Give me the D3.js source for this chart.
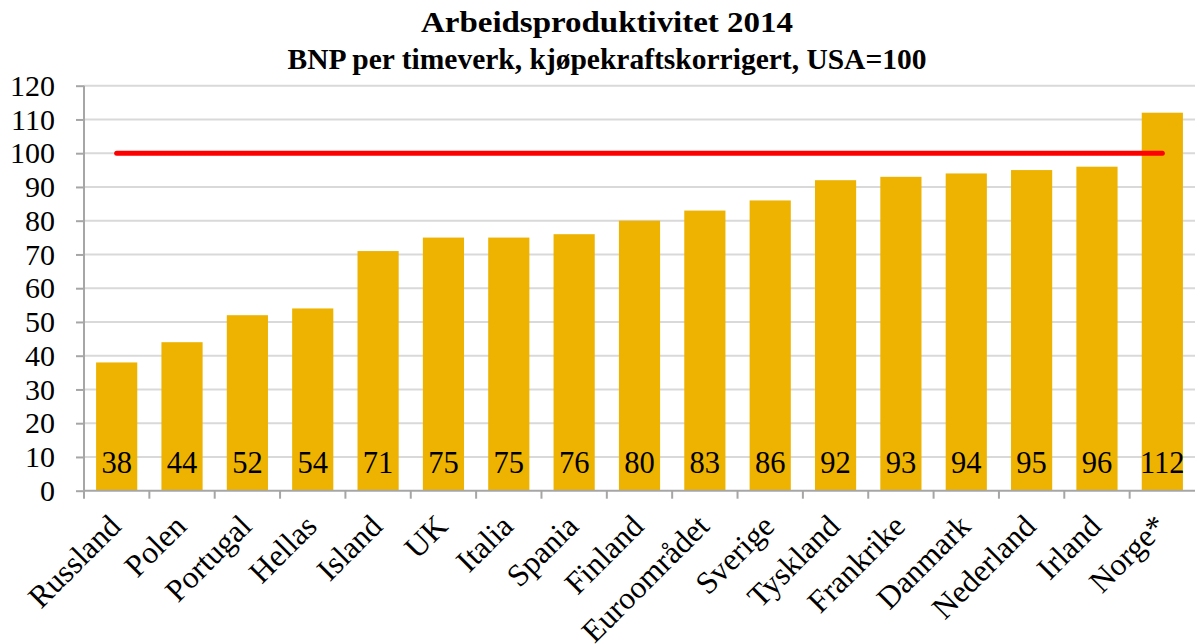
<!DOCTYPE html>
<html><head><meta charset="utf-8">
<script src="https://cdn.jsdelivr.net/npm/d3@7"></script>
<style>body{margin:0;background:#fff}svg{display:block}</style>
</head><body><svg id="c" width="1195" height="644"></svg>
<script>
const categories = ["Russland","Polen","Portugal","Hellas","Island","UK","Italia","Spania","Finland","Euroområdet","Sverige","Tyskland","Frankrike","Danmark","Nederland","Irland","Norge*"];
const values = [38,44,52,54,71,75,75,76,80,83,86,92,93,94,95,96,112];
const refValue = 100;
const yTicks = [0,10,20,30,40,50,60,70,80,90,100,110,120];
const titleLines = ["Arbeidsproduktivitet 2014","BNP per timeverk, kjøpekraftskorrigert, USA=100"];

const svg = d3.select("#c");
const font = "'Liberation Serif','Times New Roman',serif";
const L = 84, R = 1195, T = 85.7, B = 490.7;
const x = d3.scaleBand().domain(categories).range([L, R]).paddingInner(0.37).paddingOuter(0.185);
const xb = d3.scaleBand().domain(categories).range([L, R]);
const y = d3.scaleLinear().domain([0,120]).range([B, T]);

// title
const tt = svg.append("g").selectAll("text").data(titleLines).join("text")
  .attr("x", 607).attr("y", (d,i)=> 32 + i*37)
  .attr("text-anchor","middle").attr("font-family",font).attr("font-weight","bold")
  .attr("font-size",(d,i)=> i===0 ? 30 : 29.5).attr("fill","#000").text(d=>d);
tt.filter((d,i)=>i===0).attr("textLength",372).attr("lengthAdjust","spacingAndGlyphs");

// gridlines
svg.append("g").selectAll("line").data(yTicks.filter(t=>t>0)).join("line")
  .attr("x1", L).attr("x2", R).attr("y1", d=>y(d)).attr("y2", d=>y(d))
  .attr("stroke","#d9d9d9").attr("stroke-width",2);

// bars
svg.append("g").selectAll("rect").data(values).join("rect")
  .attr("x",(d,i)=>x(categories[i])).attr("width",x.bandwidth())
  .attr("y",d=>y(d)).attr("height",d=>B-y(d))
  .attr("fill","#edb300");

// value labels
svg.append("g").selectAll("text").data(values).join("text")
  .attr("x",(d,i)=>x(categories[i])+x.bandwidth()/2).attr("y",473)
  .attr("text-anchor","middle").attr("font-family",font).attr("font-size",30.5)
  .attr("fill","#000").text(d=>d);

// y axis
const yAxis = svg.append("g").attr("transform",`translate(${L},0)`)
  .call(d3.axisLeft(y).tickValues(yTicks).tickSize(8).tickPadding(21));
yAxis.select(".domain").attr("stroke","#a6a6a6").attr("stroke-width",2).attr("d",`M0,${T}V${B}`);
yAxis.selectAll(".tick line").attr("stroke","#a6a6a6").attr("stroke-width",2);
yAxis.selectAll(".tick text").attr("font-family",font).attr("font-size",30).attr("fill","#000");

// x axis
const xAxis = svg.append("g").attr("transform",`translate(0,${B})`)
  .call(d3.axisBottom(xb).tickSize(0).tickFormat(""));
xAxis.select(".domain").attr("stroke","#a6a6a6").attr("stroke-width",2).attr("d",`M${L},0H${R}`);
const bounds = categories.map(c=>xb(c)).concat([R]);
xAxis.append("g").selectAll("line").data(bounds.slice(0,-1)).join("line")
  .attr("x1",d=>d).attr("x2",d=>d).attr("y1",0).attr("y2",8)
  .attr("stroke","#a6a6a6").attr("stroke-width",2);

// x labels
svg.append("g").selectAll("text").data(categories).join("text")
  .attr("transform",d=>`translate(${xb(d)+xb.bandwidth()/2+6},${528}) rotate(-45)`)
  .attr("text-anchor","end").attr("font-family",font).attr("font-size",31.5)
  .attr("fill","#000").text(d=>d);

// reference line
svg.append("line")
  .attr("x1", xb(categories[0])+xb.bandwidth()/2)
  .attr("x2", xb(categories[categories.length-1])+xb.bandwidth()/2)
  .attr("y1", y(refValue)).attr("y2", y(refValue))
  .attr("stroke","#ff0000").attr("stroke-width",5).attr("stroke-linecap","round");
</script></body></html>
